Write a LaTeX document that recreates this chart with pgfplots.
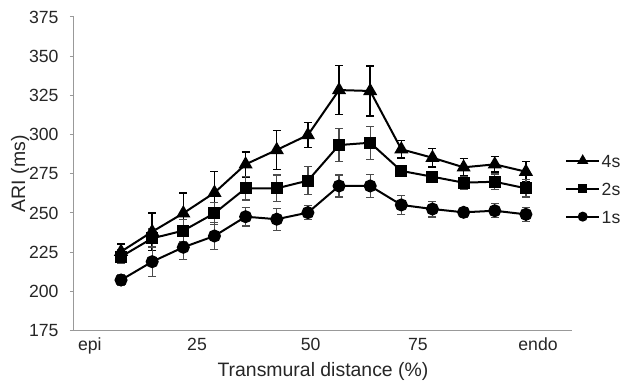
\documentclass[border=0pt]{standalone}
\usepackage{fontspec}
\setmainfont{Liberation Sans}
\usepackage{pgfplots}
\usepackage{pgfplotstable}
\pgfplotsset{compat=1.18}

\pgfplotstableread{
x y e
1 225.3 5
2 238.0 12
3 249.8 13
4 262.9 13.5
5 281.0 8
6 290.2 12.5
7 299.7 8
8 328.4 15.5
9 327.8 16
10 290.6 5.5
11 285.2 6
12 279.1 5.5
13 281.0 5
14 276.3 6.5
}\fours
\pgfplotstableread{
x y e
1 222.1 4.5
2 233.8 6
3 238.7 7
4 249.8 7
5 265.7 7.5
6 265.7 8.5
7 270.6 9
8 293.3 10.5
9 294.8 10.5
10 276.8 3
11 273.1 3.5
12 269.3 4
13 269.9 5
14 265.7 5.5
}\twos
\pgfplotstableread{
x y e
1 207.2 3.5
2 218.9 9.5
3 228.1 8
4 235.3 8.5
5 247.6 6
6 246.0 7
7 250.2 4.5
8 267.2 7
9 267.2 7.5
10 255.1 6
11 252.5 5
12 250.4 3
13 251.4 4.5
14 249.1 4.5
}\ones

\begin{document}
\begin{tikzpicture}
\path[use as bounding box] (-74bp,-51.5bp) rectangle (550bp,330.5bp);
\begin{axis}[
  at={(0,0)}, anchor=south west,
  scale only axis, width=498bp, height=313.5bp,
  xmin=-0.51, xmax=15.48, ymin=175, ymax=375,
  ytick={175,200,...,375},
  xtick={0,3.44,7.09,10.53,14.39},
  xticklabels={epi,25,50,75,endo},
  axis x line*=bottom, axis y line*=left,
  axis line style={black!40, line width=1bp},
  x axis line style={shorten <=-4bp},
  major x tick style={draw=none},
  major y tick style={black!40, line width=1bp},
  tick align=outside, major tick length=4bp,
  /pgf/number format/assume math mode=true,
  tick label style={font=\fontsize{17.7}{20}\selectfont, text=black!85},
  xticklabel style={yshift=0bp},
  yticklabel style={xshift=-8bp},
  xlabel={Transmural distance (\%)},
  ylabel={ARI (ms)},
  label style={font=\fontsize{19.5}{22}\selectfont, text=black!85},
  xlabel style={at={(axis description cs:0.5,-0.1483)}, anchor=base},
  ylabel style={at={(axis description cs:-0.1084,0.5)}, anchor=center},
  legend style={at={(0.986,0.568)}, anchor=north west, draw=none, fill=none,
    inner sep=0pt, row sep=12bp, column sep=0pt,
    font=\fontsize{17.7}{20}\selectfont, text=black!85,
    nodes={inner sep=1.5bp, text height=13bp, text depth=0bp}},
  legend cell align=left,
  legend image code/.code={\draw[mark repeat=2, mark phase=2, mark options={scale=0.72}]
     plot coordinates {(0bp,0bp) (16.5bp,0bp) (33bp,0bp)};},
  clip=false,
]
\addplot[black, line width=2bp, mark=triangle*, mark size=6.2bp,
  error bars/.cd, y dir=both, y explicit,
  error bar style={black, line width=1.4bp, solid},
  error mark options={rotate=90, mark size=4bp, black, line width=1.4bp}]
  table[x=x, y=y, y error=e] {\fours};
\addlegendentry{4s}
\addplot[black, line width=2bp, mark=square*, mark size=5bp,
  error bars/.cd, y dir=both, y explicit,
  error bar style={black!70, line width=1.3bp, solid},
  error mark options={rotate=90, mark size=4bp, black!70, line width=1.3bp}]
  table[x=x, y=y, y error=e] {\twos};
\addlegendentry{2s}
\addplot[black, line width=2bp, mark=*, mark size=5.5bp,
  error bars/.cd, y dir=both, y explicit,
  error bar style={black!70, line width=1.3bp, solid},
  error mark options={rotate=90, mark size=4bp, black!70, line width=1.3bp}]
  table[x=x, y=y, y error=e] {\ones};
\addlegendentry{1s}
\end{axis}
\end{tikzpicture}
\end{document}
